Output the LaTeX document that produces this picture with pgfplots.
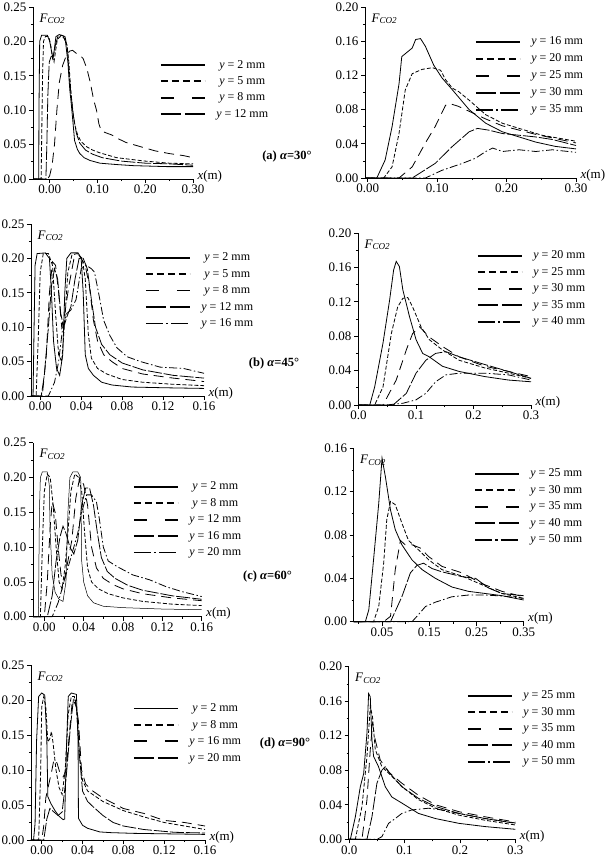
\documentclass[border=0pt]{standalone}
\usepackage{pgfplots}
\pgfplotsset{compat=1.18}
\usepackage{fontspec}
\setmainfont{Liberation Serif}

\pgfplotsset{
  panel/.style={
    scale only axis,
    axis x line=bottom, axis y line=left,
    axis line style={-, line width=0.9pt},
    tick align=outside,
    major tick length=4pt, minor tick length=2.2pt,
    every tick/.style={black, line width=0.7pt},
    ticklabel style={font=\fontsize{13}{13}\selectfont},
    xticklabel style={inner sep=2pt},
    yticklabel style={inner sep=2.5pt},
    ymin=0,
    clip=false,
    legend cell align=center,
    legend style={draw=none, fill=none, inner sep=0pt, outer sep=0pt,
      font=\fontsize{12}{12}\selectfont, row sep=3pt},
    legend image code/.code={\draw[#1, line width=1.9pt] (0pt,0pt) -- (44pt,0pt); \path (53pt,0pt);},
    every axis plot/.append style={black, line width=0.8pt, mark=none},
  },
  s1/.style={solid},
  s2/.style={dash pattern=on 4pt off 2pt, legend image post style={dash pattern=on 7pt off 4pt}},
  s3/.style={dash pattern=on 10pt off 6pt, legend image post style={dash pattern=on 13pt off 18pt}},
  s4/.style={dash pattern=on 14pt off 2pt, legend image post style={dash pattern=on 20pt off 4pt}},
  s5/.style={dash pattern=on 8pt off 2.5pt on 1.5pt off 2.5pt, legend image post style={dash pattern=on 17pt off 3pt on 2.5pt off 3pt}},
  leftY/.style={ymax=0.25, ytick={0,0.05,0.10,0.15,0.20,0.25},
    yticklabels={0.00,0.05,0.10,0.15,0.20,0.25},
    minor ytick={0.025,0.075,0.125,0.175,0.225}},
  smallX/.style={xmax=0.16, xtick={0,0.04,0.08,0.12,0.16},
    xticklabels={0.00,0.04,0.08,0.12,0.16},
    minor xtick={0.02,0.06,0.10,0.14}},
  rY20/.style={ymax=0.20, ytick={0,0.04,0.08,0.12,0.16,0.20},
    yticklabels={0.00,0.04,0.08,0.12,0.16,0.20},
    minor ytick={0.02,0.06,0.10,0.14,0.18}},
}
\newcommand{\Fco}{\node[anchor=north west, font=\fontsize{13}{13}\selectfont] at (rel axis cs:0,1) [xshift=3pt,yshift=-3pt] {\textit{F}\textsubscript{\textit{CO2}}};}
\newcommand{\Xm}{\node[anchor=west, font=\fontsize{13}{13}\selectfont] at (rel axis cs:1,0) [xshift=1pt,yshift=3pt] {\textit{x}(m)};}

\begin{document}
\begin{tikzpicture}[x=1pt,y=1pt]
\useasboundingbox (0,0) rectangle (605,860);

% ---------------- (a) left
\begin{axis}[panel, leftY, at={(33pt,681pt)}, anchor=south west, width=160pt, height=172pt,
  xmin=-0.035, xmax=0.30, xtick={0,0.1,0.2,0.3}, xticklabels={0.00,0.10,0.20,0.30},
  minor xtick={0.05,0.15,0.25},
  legend style={at={(0.794,0.703)}, anchor=north west}]
\addplot[s1] coordinates {(-0.035,0) (-0.023,0) (-0.0225,0.1) (-0.021,0.2) (-0.017,0.209) (-0.005,0.209) (0.0,0.2) (0.004,0.185) (0.007,0.175) (0.01,0.19) (0.013,0.207) (0.02,0.21) (0.028,0.208) (0.033,0.2) (0.038,0.17) (0.042,0.13) (0.045,0.11) (0.049,0.08) (0.052,0.056) (0.058,0.043) (0.063,0.037) (0.072,0.031) (0.084,0.027) (0.105,0.023) (0.14,0.021) (0.175,0.0194) (0.245,0.018) (0.3,0.018)};
\addlegendentry{\textit{y} = 2 mm}
\addplot[s2] coordinates {(-0.035,0) (-0.018,0) (-0.017,0.05) (-0.015,0.15) (-0.013,0.2) (-0.009,0.207) (-0.002,0.207) (0.002,0.195) (0.006,0.175) (0.009,0.17) (0.012,0.185) (0.016,0.203) (0.022,0.207) (0.03,0.205) (0.036,0.195) (0.04,0.17) (0.044,0.13) (0.048,0.1) (0.052,0.08) (0.058,0.065) (0.065,0.055) (0.077,0.047) (0.09,0.042) (0.105,0.038) (0.14,0.031) (0.2,0.026) (0.25,0.023) (0.3,0.022)};
\addlegendentry{\textit{y} = 5 mm}
\addplot[s3] coordinates {(-0.035,0) (-0.004,0) (0.0,0.005) (0.005,0.02) (0.01,0.05) (0.015,0.1) (0.02,0.14) (0.027,0.165) (0.035,0.18) (0.042,0.186) (0.048,0.187) (0.055,0.183) (0.063,0.18) (0.07,0.175) (0.078,0.16) (0.085,0.14) (0.092,0.115) (0.098,0.1) (0.103,0.08) (0.108,0.07) (0.118,0.067) (0.13,0.064) (0.145,0.058) (0.16,0.053) (0.18,0.049) (0.2,0.045) (0.22,0.041) (0.25,0.037) (0.28,0.034) (0.3,0.031)};
\addlegendentry{\textit{y} = 8 mm}
\addplot[s4] coordinates {(-0.035,0) (-0.008,0) (-0.006,0.05) (-0.004,0.12) (-0.001,0.17) (0.003,0.178) (0.008,0.18) (0.012,0.195) (0.017,0.207) (0.025,0.209) (0.032,0.207) (0.037,0.19) (0.041,0.15) (0.045,0.12) (0.05,0.09) (0.056,0.066) (0.063,0.052) (0.075,0.042) (0.09,0.036) (0.11,0.031) (0.15,0.026) (0.2,0.023) (0.25,0.022) (0.3,0.02)};
\addlegendentry{\textit{y} = 12 mm}
\Fco \Xm
\end{axis}

% ---------------- (a) right
\begin{axis}[panel, rY20, at={(365pt,682pt)}, anchor=south west, width=211pt, height=171pt,
  xmin=-0.004, xmax=0.30, xtick={0,0.1,0.2,0.3}, xticklabels={0.00,0.10,0.20,0.30},
  minor xtick={0.05,0.15,0.25},
  legend style={at={(0.521,0.836)}, anchor=north west, row sep=3.5pt}]
\addplot[s1] coordinates {(-0.004,0) (0.013,0) (0.025,0.021) (0.035,0.06) (0.045,0.11) (0.049,0.142) (0.058,0.148) (0.064,0.152) (0.069,0.162) (0.076,0.163) (0.083,0.154) (0.095,0.132) (0.107,0.117) (0.122,0.103) (0.146,0.080) (0.17,0.064) (0.194,0.054) (0.218,0.048) (0.242,0.042) (0.27,0.037) (0.30,0.034)};
\addlegendentry{\textit{y} = 16 mm}
\addplot[s2] coordinates {(-0.004,0) (0.023,0) (0.035,0.013) (0.045,0.052) (0.054,0.103) (0.064,0.122) (0.078,0.127) (0.093,0.129) (0.105,0.126) (0.112,0.115) (0.122,0.105) (0.131,0.101) (0.146,0.091) (0.17,0.074) (0.194,0.064) (0.218,0.058) (0.251,0.050) (0.30,0.043)};
\addlegendentry{\textit{y} = 20 mm}
\addplot[s3] coordinates {(-0.004,0) (0.045,0) (0.064,0.013) (0.083,0.041) (0.097,0.06) (0.112,0.085) (0.118,0.087) (0.13,0.084) (0.146,0.078) (0.17,0.069) (0.194,0.061) (0.242,0.051) (0.30,0.041)};
\addlegendentry{\textit{y} = 25 mm}
\addplot[s4] coordinates {(-0.004,0) (0.064,0) (0.097,0.017) (0.122,0.037) (0.146,0.054) (0.158,0.058) (0.174,0.056) (0.194,0.052) (0.242,0.048) (0.266,0.045) (0.30,0.038)};
\addlegendentry{\textit{y} = 30 mm}
\addplot[s5] coordinates {(-0.004,0) (0.083,0) (0.107,0.009) (0.136,0.017) (0.155,0.023) (0.17,0.031) (0.18,0.035) (0.194,0.031) (0.218,0.033) (0.242,0.031) (0.266,0.033) (0.30,0.030)};
\addlegendentry{\textit{y} = 35 mm}
\Fco \Xm
\end{axis}

% ---------------- (b) left
\begin{axis}[panel, leftY, smallX, at={(31pt,464pt)}, anchor=south west, width=173pt, height=172pt,
  xmin=-0.009,
  legend style={at={(0.659,0.843)}, anchor=north west}]
\addplot[s1] coordinates {(-0.009,0) (-0.007,0) (-0.006,0.1) (-0.005,0.19) (-0.003,0.207) (0.005,0.208) (0.009,0.2) (0.011,0.15) (0.013,0.08) (0.016,0.04) (0.019,0.03) (0.022,0.06) (0.024,0.15) (0.026,0.2) (0.03,0.208) (0.037,0.208) (0.04,0.2) (0.042,0.15) (0.044,0.06) (0.047,0.04) (0.052,0.03) (0.06,0.02) (0.07,0.016) (0.09,0.013) (0.12,0.012) (0.16,0.011)};
\addlegendentry{\textit{y} = 2 mm}
\addplot[s2] coordinates {(-0.009,0) (-0.004,0) (-0.002,0.08) (0.000,0.18) (0.003,0.207) (0.008,0.207) (0.012,0.19) (0.015,0.12) (0.018,0.06) (0.021,0.05) (0.024,0.11) (0.027,0.18) (0.031,0.205) (0.036,0.207) (0.041,0.2) (0.044,0.17) (0.047,0.09) (0.05,0.055) (0.056,0.04) (0.065,0.032) (0.08,0.024) (0.1,0.02) (0.13,0.017) (0.16,0.015)};
\addlegendentry{\textit{y} = 5 mm}
\addplot[s3] coordinates {(-0.009,0) (0.002,0) (0.006,0.06) (0.009,0.15) (0.012,0.195) (0.015,0.19) (0.018,0.15) (0.021,0.1) (0.024,0.12) (0.028,0.16) (0.033,0.2) (0.038,0.205) (0.044,0.19) (0.048,0.16) (0.052,0.11) (0.056,0.08) (0.062,0.06) (0.07,0.05) (0.08,0.04) (0.1,0.032) (0.13,0.026) (0.16,0.021)};
\addlegendentry{\textit{y} = 8 mm}
\addplot[s4] coordinates {(-0.009,0) (0.001,0) (0.004,0.03) (0.008,0.1) (0.011,0.16) (0.014,0.185) (0.017,0.17) (0.02,0.12) (0.023,0.1) (0.026,0.115) (0.03,0.13) (0.034,0.17) (0.038,0.2) (0.042,0.2) (0.046,0.185) (0.05,0.14) (0.054,0.1) (0.06,0.075) (0.068,0.06) (0.08,0.048) (0.1,0.038) (0.13,0.03) (0.16,0.026)};
\addlegendentry{\textit{y} = 12 mm}
\addplot[s5] coordinates {(-0.009,0) (0.008,0) (0.014,0.02) (0.018,0.05) (0.022,0.1) (0.026,0.12) (0.03,0.125) (0.035,0.14) (0.04,0.185) (0.045,0.19) (0.05,0.185) (0.053,0.18) (0.057,0.15) (0.062,0.11) (0.068,0.088) (0.075,0.07) (0.085,0.057) (0.098,0.05) (0.117,0.042) (0.14,0.04) (0.16,0.033)};
\addlegendentry{\textit{y} = 16 mm}
\Fco \Xm
\end{axis}

% ---------------- (b) right
\begin{axis}[panel, rY20, at={(358pt,455pt)}, anchor=south west, width=173pt, height=172pt,
  xmin=-0.001, xmax=0.30, xtick={0,0.1,0.2,0.3}, xticklabels={0.0,0.1,0.2,0.3},
  minor xtick={0.05,0.15,0.25},
  legend style={at={(0.688,0.907)}, anchor=north west}]
\addplot[s1] coordinates {(-0.001,0) (0.0195,0) (0.028,0.021) (0.0425,0.072) (0.054,0.122) (0.061,0.157) (0.0655,0.167) (0.071,0.161) (0.077,0.134) (0.0885,0.103) (0.1,0.076) (0.1115,0.060) (0.123,0.056) (0.146,0.045) (0.175,0.039) (0.22,0.033) (0.261,0.029) (0.30,0.027)};
\addlegendentry{\textit{y} = 20 mm}
\addplot[s2] coordinates {(-0.001,0) (0.028,0) (0.0425,0.021) (0.057,0.083) (0.068,0.114) (0.077,0.124) (0.0856,0.125) (0.094,0.114) (0.1086,0.091) (0.123,0.076) (0.146,0.064) (0.175,0.052) (0.22,0.043) (0.261,0.037) (0.30,0.031)};
\addlegendentry{\textit{y} = 25 mm}
\addplot[s3] coordinates {(-0.001,0) (0.0425,0) (0.0655,0.029) (0.083,0.064) (0.094,0.083) (0.106,0.091) (0.123,0.079) (0.146,0.068) (0.175,0.056) (0.22,0.045) (0.261,0.039) (0.30,0.033)};
\addlegendentry{\textit{y} = 30 mm}
\addplot[s4] coordinates {(-0.001,0) (0.06,0) (0.083,0.0135) (0.1,0.037) (0.117,0.052) (0.134,0.060) (0.152,0.062) (0.175,0.056) (0.22,0.047) (0.261,0.039) (0.3,0.031)};
\addlegendentry{\textit{y} = 35 mm}
\addplot[s5] coordinates {(-0.001,0) (0.048,0) (0.077,0.002) (0.1,0.006) (0.117,0.0135) (0.134,0.027) (0.152,0.035) (0.175,0.037) (0.22,0.037) (0.261,0.035) (0.3,0.029)};
\addlegendentry{\textit{y} = 40 mm}
\Fco \Xm
\end{axis}

% ---------------- (c) left
\begin{axis}[panel, leftY, smallX, at={(33pt,243.3pt)}, anchor=south west, width=168.7pt, height=174pt,
  xmin=-0.0115,
  legend style={at={(0.593,0.786)}, anchor=north west}]
\addplot[s1, line width=0.5pt] coordinates {(-0.0115,0) (-0.006,0) (-0.005,0.15) (-0.004,0.2) (-0.002,0.208) (0.003,0.208) (0.005,0.19) (0.006,0.12) (0.008,0.06) (0.011,0.035) (0.015,0.025) (0.019,0.022) (0.022,0.05) (0.024,0.15) (0.026,0.2) (0.029,0.208) (0.034,0.208) (0.037,0.2) (0.038,0.08) (0.040,0.05) (0.044,0.03) (0.05,0.02) (0.06,0.015) (0.08,0.013) (0.12,0.011) (0.16,0.01)};
\addlegendentry{\textit{y} = 2 mm}
\addplot[s2] coordinates {(-0.0115,0) (-0.004,0) (-0.002,0.1) (0.0,0.18) (0.003,0.205) (0.006,0.2) (0.009,0.16) (0.012,0.1) (0.015,0.05) (0.018,0.04) (0.021,0.07) (0.024,0.12) (0.027,0.18) (0.031,0.205) (0.035,0.2) (0.038,0.18) (0.041,0.12) (0.044,0.07) (0.048,0.05) (0.055,0.04) (0.065,0.033) (0.08,0.027) (0.1,0.022) (0.13,0.018) (0.16,0.016)};
\addlegendentry{\textit{y} = 8 mm}
\addplot[s3] coordinates {(-0.0115,0) (0.0,0) (0.003,0.05) (0.006,0.13) (0.008,0.165) (0.011,0.15) (0.014,0.1) (0.017,0.06) (0.02,0.05) (0.024,0.08) (0.028,0.11) (0.032,0.17) (0.036,0.2) (0.04,0.19) (0.044,0.16) (0.048,0.1) (0.053,0.07) (0.06,0.055) (0.07,0.046) (0.08,0.04) (0.1,0.033) (0.13,0.027) (0.16,0.023)};
\addlegendentry{\textit{y} = 12 mm}
\addplot[s4] coordinates {(-0.0115,0) (0.003,0) (0.008,0.03) (0.012,0.08) (0.016,0.115) (0.019,0.13) (0.022,0.12) (0.026,0.1) (0.03,0.09) (0.034,0.11) (0.038,0.16) (0.042,0.185) (0.046,0.185) (0.05,0.16) (0.054,0.12) (0.058,0.085) (0.064,0.065) (0.072,0.055) (0.085,0.045) (0.1,0.038) (0.13,0.03) (0.16,0.025)};
\addlegendentry{\textit{y} = 16 mm}
\addplot[s5] coordinates {(-0.0115,0) (0.008,0) (0.014,0.02) (0.02,0.05) (0.026,0.08) (0.03,0.1) (0.034,0.12) (0.038,0.15) (0.043,0.175) (0.048,0.175) (0.053,0.165) (0.056,0.14) (0.06,0.1) (0.065,0.08) (0.074,0.072) (0.09,0.06) (0.107,0.053) (0.124,0.043) (0.14,0.036) (0.16,0.029)};
\addlegendentry{\textit{y} = 20 mm}
\Fco \Xm
\end{axis}

% ---------------- (c) right
\begin{axis}[panel, at={(353.7pt,238.3pt)}, anchor=south west, width=170pt, height=173.4pt,
  xmin=-0.01, xmax=0.35, xtick={0.05,0.15,0.25,0.35}, xticklabels={0.05,0.15,0.25,0.35},
  minor xtick={0,0.1,0.2,0.3},
  ymax=0.16, ytick={0,0.04,0.08,0.12,0.16}, yticklabels={0.00,0.04,0.08,0.12,0.16},
  minor ytick={0.02,0.06,0.10,0.14},
  legend style={at={(0.708,0.892)}, anchor=north west}]
\addplot[s1] coordinates {(-0.01,0) (0.0147,0) (0.022,0.011) (0.032,0.057) (0.043,0.109) (0.05,0.151) (0.057,0.134) (0.068,0.103) (0.078,0.085) (0.092,0.071) (0.1135,0.057) (0.135,0.048) (0.163,0.040) (0.198,0.032) (0.233,0.028) (0.269,0.026) (0.304,0.024) (0.35,0.020)};
\addlegendentry{\textit{y} = 25 mm}
\addplot[s2] coordinates {(-0.01,0) (0.032,0) (0.043,0.014) (0.0535,0.054) (0.06,0.094) (0.068,0.111) (0.078,0.108) (0.092,0.091) (0.106,0.075) (0.128,0.066) (0.149,0.057) (0.177,0.048) (0.22,0.042) (0.262,0.034) (0.304,0.026) (0.35,0.0215)};
\addlegendentry{\textit{y} = 30 mm}
\addplot[s3] coordinates {(-0.01,0) (0.0535,0) (0.068,0.005) (0.078,0.048) (0.089,0.075) (0.099,0.071) (0.1135,0.071) (0.131,0.068) (0.149,0.060) (0.177,0.051) (0.22,0.045) (0.262,0.035) (0.304,0.028) (0.35,0.023)};
\addlegendentry{\textit{y} = 35 mm}
\addplot[s4] coordinates {(-0.01,0) (0.068,0) (0.092,0.023) (0.11,0.045) (0.124,0.052) (0.138,0.054) (0.156,0.049) (0.177,0.046) (0.22,0.0415) (0.248,0.040) (0.276,0.031) (0.304,0.026) (0.35,0.024)};
\addlegendentry{\textit{y} = 40 mm}
\addplot[s5] coordinates {(-0.01,0) (0.1135,0) (0.124,0.005) (0.142,0.014) (0.163,0.018) (0.198,0.023) (0.233,0.0246) (0.269,0.0246) (0.304,0.0237) (0.35,0.0215)};
\addlegendentry{\textit{y} = 50 mm}
\Fco \Xm
\end{axis}

% ---------------- (d) left
\begin{axis}[panel, leftY, smallX, at={(31pt,20pt)}, anchor=south west, width=174pt, height=175pt,
  xmin=-0.0105,
  legend style={at={(0.586,0.79)}, anchor=north west}]
\addplot[s1] coordinates {(-0.0105,0) (-0.008,0) (-0.0065,0.024) (-0.005,0.143) (-0.003,0.205) (0.0,0.21) (0.003,0.207) (0.005,0.143) (0.006,0.062) (0.009,0.052) (0.013,0.042) (0.017,0.034) (0.021,0.029) (0.0225,0.03) (0.024,0.12) (0.026,0.205) (0.029,0.21) (0.034,0.208) (0.0356,0.143) (0.036,0.031) (0.04,0.021) (0.045,0.0167) (0.057,0.0115) (0.068,0.0105) (0.09,0.0095) (0.16,0.008)};
\addlegendentry{\textit{y} = 2 mm}
\addplot[s2] coordinates {(-0.0105,0) (-0.003,0) (-0.001,0.1) (0.0,0.19) (0.002,0.205) (0.004,0.19) (0.006,0.14) (0.008,0.145) (0.0095,0.155) (0.011,0.14) (0.014,0.1) (0.017,0.075) (0.02,0.065) (0.023,0.1) (0.026,0.18) (0.029,0.205) (0.032,0.205) (0.035,0.18) (0.037,0.12) (0.04,0.085) (0.045,0.07) (0.06,0.055) (0.08,0.042) (0.1,0.033) (0.12,0.025) (0.14,0.02) (0.16,0.015)};
\addlegendentry{\textit{y} = 8 mm}
\addplot[s3] coordinates {(-0.0105,0) (0.0,0) (0.002,0.02) (0.004,0.06) (0.007,0.08) (0.01,0.1) (0.012,0.115) (0.015,0.11) (0.018,0.095) (0.021,0.09) (0.024,0.1) (0.027,0.15) (0.03,0.2) (0.033,0.2) (0.036,0.17) (0.039,0.1) (0.043,0.08) (0.05,0.07) (0.06,0.06) (0.08,0.045) (0.1,0.038) (0.12,0.028) (0.14,0.025) (0.16,0.02)};
\addlegendentry{\textit{y} = 16 mm}
\addplot[s4] coordinates {(-0.0105,0) (0.002,0) (0.005,0.03) (0.008,0.045) (0.012,0.04) (0.016,0.035) (0.02,0.04) (0.024,0.09) (0.028,0.16) (0.031,0.2) (0.034,0.19) (0.037,0.12) (0.04,0.07) (0.045,0.055) (0.05,0.048) (0.06,0.035) (0.07,0.025) (0.08,0.02) (0.1,0.015) (0.13,0.011) (0.16,0.01)};
\addlegendentry{\textit{y} = 20 mm}
\Fco \Xm
\end{axis}

% ---------------- (d) right
\begin{axis}[panel, rY20, at={(348.7pt,20.7pt)}, anchor=south west, width=166.6pt, height=172.6pt,
  xmin=-0.001, xmax=0.30, xtick={0,0.1,0.2,0.3}, xticklabels={0.0,0.1,0.2,0.3},
  minor xtick={0.05,0.15,0.25},
  legend style={at={(0.71,0.871)}, anchor=north west}]
\addplot[s1] coordinates {(-0.001,0) (0.002,0) (0.011,0.026) (0.02,0.061) (0.026,0.076) (0.032,0.123) (0.035,0.169) (0.038,0.165) (0.041,0.115) (0.044,0.096) (0.053,0.084) (0.065,0.061) (0.077,0.049) (0.095,0.042) (0.125,0.030) (0.156,0.024) (0.198,0.0185) (0.246,0.0147) (0.30,0.0116)};
\addlegendentry{\textit{y} = 25 mm}
\addplot[s2] coordinates {(-0.001,0) (0.011,0) (0.023,0.038) (0.032,0.096) (0.038,0.154) (0.042,0.142) (0.047,0.104) (0.059,0.084) (0.077,0.073) (0.095,0.061) (0.125,0.046) (0.156,0.036) (0.198,0.028) (0.246,0.022) (0.30,0.0166)};
\addlegendentry{\textit{y} = 30 mm}
\addplot[s3] coordinates {(-0.001,0) (0.023,0) (0.032,0.046) (0.038,0.104) (0.042,0.134) (0.047,0.115) (0.056,0.092) (0.071,0.078) (0.095,0.065) (0.125,0.051) (0.156,0.040) (0.198,0.032) (0.246,0.026) (0.30,0.020)};
\addlegendentry{\textit{y} = 35 mm}
\addplot[s4] coordinates {(-0.001,0) (0.032,0) (0.041,0.026) (0.05,0.065) (0.059,0.080) (0.065,0.084) (0.074,0.076) (0.095,0.061) (0.125,0.0475) (0.156,0.038) (0.198,0.030) (0.246,0.024) (0.30,0.0185)};
\addlegendentry{\textit{y} = 40 mm}
\addplot[s5] coordinates {(-0.001,0) (0.05,0) (0.059,0.003) (0.071,0.0185) (0.083,0.024) (0.095,0.030) (0.113,0.034) (0.143,0.036) (0.168,0.034) (0.198,0.030) (0.246,0.024) (0.30,0.019)};
\addlegendentry{\textit{y} = 50 mm}
\Fco \Xm
\end{axis}

% panel labels
\node[font=\bfseries\fontsize{12.5}{13}\selectfont] at (287,703) {(a) \textit{α}=30°};
\node[font=\bfseries\fontsize{12.5}{13}\selectfont] at (274,497) {(b) \textit{α}=45°};
\node[font=\bfseries\fontsize{12.5}{13}\selectfont] at (267.5,283.3) {(c) \textit{α}=60°};
\node[font=\bfseries\fontsize{12.5}{13}\selectfont] at (285,117) {(d) \textit{α}=90°};
\end{tikzpicture}
\end{document}
